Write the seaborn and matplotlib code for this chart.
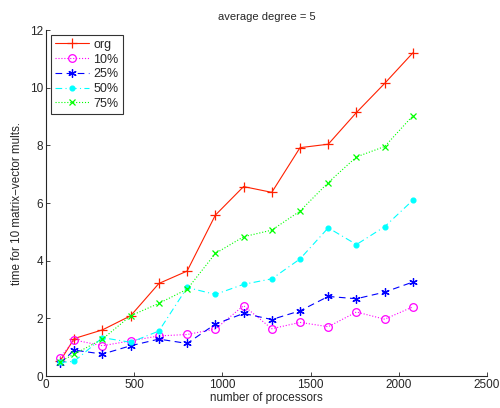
import matplotlib
matplotlib.use("Agg")
import matplotlib.pyplot as plt
import seaborn as sns
import pandas as pd

processors = [80, 160, 320, 480, 640, 800, 960, 1120, 1280, 1440, 1600, 1760, 1920, 2080]
org = [0.52, 1.3, 1.6, 2.09, 3.21, 3.64, 5.58, 6.57, 6.37, 7.92, 8.04, 9.14, 10.15, 11.21]
p10 = [0.63, 1.25, 1.05, 1.22, 1.39, 1.44, 1.63, 2.44, 1.64, 1.86, 1.71, 2.22, 1.97, 2.4]
p25 = [0.44, 0.9, 0.76, 1.05, 1.28, 1.13, 1.8, 2.17, 1.96, 2.26, 2.76, 2.68, 2.91, 3.26]
p50 = [0.47, 0.51, 1.33, 1.17, 1.56, 3.07, 2.83, 3.18, 3.37, 4.06, 5.14, 4.56, 5.18, 6.1]
p75 = [0.5, 0.76, 1.28, 2.09, 2.52, 3.01, 4.25, 4.83, 5.06, 5.72, 6.71, 7.6, 7.96, 9.03]
labels = ["org", "10%", "25%", "50%", "75%"]
series = [org, p10, p25, p50, p75]

sns.set_style("ticks")
plt.rcParams['font.family'] = ['Liberation Sans', 'DejaVu Sans']
plt.rcParams['xtick.direction'] = 'in'
plt.rcParams['ytick.direction'] = 'in'

fig = plt.figure(figsize=(5.0, 4.08), dpi=100)
ax = fig.add_axes([0.092, 0.0784, 0.882, 0.848])

styles = [
    dict(color='#ff2000', linestyle='-', marker='+', markersize=7, markerfacecolor='none'),
    dict(color='#ff00ff', linestyle=':', marker='o', markersize=5.5, markerfacecolor='none'),
    dict(color='#0000ff', linestyle=(0, (6, 4)), marker=(6, 2, 0), markersize=6),
    dict(color='#00ffff', linestyle=(0, (6, 3, 1, 3)), marker='.', markersize=7),
    dict(color='#00ff00', linestyle=':', marker='x', markersize=4.5),
]

for lab, vals, st in zip(labels, series, styles):
    df = pd.DataFrame({"processors": processors, "time": vals})
    sns.lineplot(data=df, x="processors", y="time", ax=ax, label=lab,
                 linewidth=0.8, markeredgewidth=0.9, markeredgecolor=st['color'], **st)

ax.set_xlim(0, 2500)
ax.set_ylim(0, 12)
ax.set_xticks(range(0, 2501, 500))
ax.set_yticks(range(0, 13, 2))
ax.tick_params(labelsize=8.5, length=3, width=0.6, pad=2)
for s in ['top', 'right']:
    ax.spines[s].set_visible(False)
for s in ['left', 'bottom']:
    ax.spines[s].set_linewidth(0.8)
ax.set_xlabel("number of processors", fontsize=8.4, labelpad=1)
ax.set_ylabel("time for 10 matrix\u2212vector mults.", fontsize=8.4, labelpad=5)
ax.set_title("average degree = 5", fontsize=8, pad=7)

leg = ax.legend(loc='upper left', fontsize=9, frameon=True, fancybox=False,
                edgecolor='black', handlelength=2.7, borderaxespad=0.4,
                labelspacing=0.22, borderpad=0.3, handletextpad=0.4)
leg.get_frame().set_linewidth(0.8)

fig.savefig("out.png", dpi=100)
